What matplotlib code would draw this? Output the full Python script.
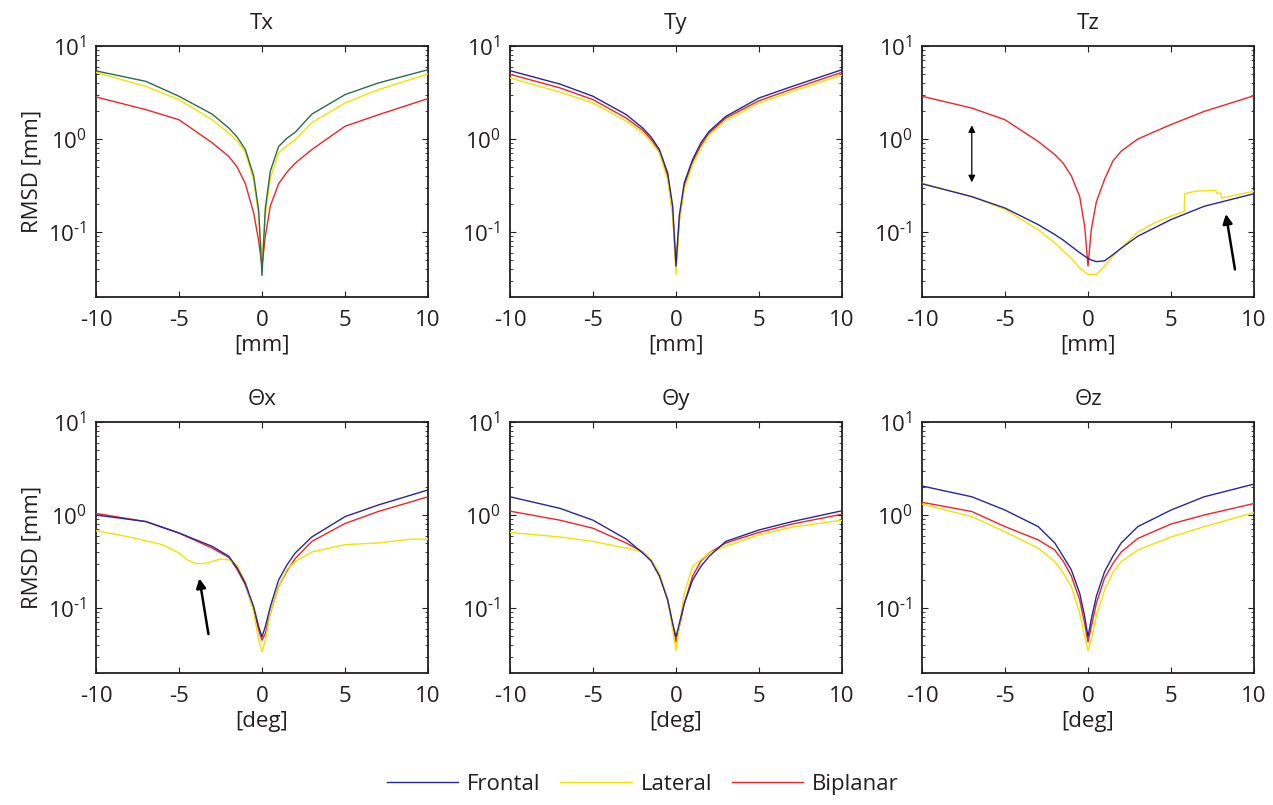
import matplotlib
matplotlib.use('Agg')
from matplotlib import pyplot as plt
from matplotlib.ticker import LogLocator, NullFormatter

plt.rcParams['font.family'] = ['Open Sans', 'DejaVu Sans']
plt.rcParams['mathtext.fontset'] = 'custom'
plt.rcParams['mathtext.rm'] = 'Open Sans'
plt.rcParams['axes.unicode_minus'] = False

# common x grid (mm or deg)
x = [-10, -7, -5, -3, -2, -1.5, -1, -0.5, -0.2, 0, 0.2, 0.5, 1, 1.5, 2, 3, 5, 7, 10]

# Tx
tx_frontal = [5.4, 4.17, 2.88, 1.85, 1.31, 1.05, 0.77, 0.40, 0.17, 0.034, 0.18, 0.45, 0.83, 1.02, 1.18, 1.85, 3.0, 4.0, 5.56]
tx_lateral = [5.2, 3.68, 2.65, 1.61, 1.16, 0.95, 0.72, 0.36, 0.15, 0.05, 0.15, 0.38, 0.71, 0.85, 0.98, 1.5, 2.44, 3.39, 5.0]
tx_biplanar = [2.83, 2.07, 1.61, 0.91, 0.65, 0.50, 0.33, 0.16, 0.08, 0.043, 0.09, 0.19, 0.33, 0.44, 0.55, 0.77, 1.37, 1.82, 2.72]

# Ty
ty_frontal = [5.43, 3.9, 2.88, 1.83, 1.31, 1.05, 0.77, 0.43, 0.19, 0.043, 0.15, 0.34, 0.60, 0.91, 1.21, 1.75, 2.76, 3.68, 5.56]
ty_lateral = [4.53, 3.2, 2.44, 1.55, 1.16, 0.93, 0.71, 0.36, 0.15, 0.035, 0.13, 0.29, 0.53, 0.80, 1.11, 1.59, 2.44, 3.25, 4.88]
ty_biplanar = [4.96, 3.55, 2.65, 1.68, 1.24, 0.99, 0.74, 0.40, 0.16, 0.043, 0.135, 0.31, 0.57, 0.85, 1.16, 1.68, 2.58, 3.45, 5.21]

# Tz
tz_frontal = [0.33, 0.24, 0.181, 0.12, 0.094, 0.082, 0.070, 0.06, 0.055, 0.052, 0.05, 0.048, 0.049, 0.057, 0.067, 0.090, 0.136, 0.189, 0.258]
tz_lat_x = [-10, -7, -5, -3, -2, -1, -0.5, 0, 0.5, 1, 1.5, 2, 3, 4, 5, 5.8, 5.82, 6.5, 7.7, 7.75, 8.0, 8.05, 10]
tz_lateral = [0.335, 0.24, 0.175, 0.106, 0.076, 0.052, 0.041, 0.035, 0.035, 0.043, 0.055, 0.067, 0.100, 0.125, 0.148, 0.167, 0.258, 0.275, 0.28, 0.262, 0.26, 0.232, 0.274]
tz_biplanar = [2.88, 2.15, 1.61, 0.94, 0.68, 0.55, 0.40, 0.24, 0.115, 0.043, 0.107, 0.21, 0.37, 0.58, 0.74, 1.0, 1.43, 1.98, 2.92]

# Theta x
rx_frontal = [1.0, 0.85, 0.64, 0.46, 0.36, 0.27, 0.184, 0.103, 0.063, 0.049, 0.063, 0.103, 0.20, 0.29, 0.39, 0.58, 0.96, 1.28, 1.86]
rx_lat_x = [-10, -8, -6, -5, -4.5, -4, -3.5, -3, -2.5, -2, -1.5, -1, -0.5, -0.2, 0, 0.2, 0.5, 1, 1.5, 2, 3, 5, 7, 9, 10]
rx_lateral = [0.68, 0.58, 0.48, 0.39, 0.33, 0.30, 0.30, 0.316, 0.336, 0.33, 0.29, 0.19, 0.09, 0.045, 0.034, 0.045, 0.088, 0.17, 0.26, 0.316, 0.40, 0.48, 0.50, 0.55, 0.55]
rx_biplanar = [1.04, 0.85, 0.64, 0.44, 0.35, 0.26, 0.177, 0.095, 0.058, 0.045, 0.053, 0.088, 0.17, 0.25, 0.34, 0.52, 0.81, 1.09, 1.57]

# Theta y
ry_frontal = [1.57, 1.18, 0.88, 0.55, 0.39, 0.32, 0.22, 0.122, 0.068, 0.049, 0.068, 0.112, 0.20, 0.28, 0.36, 0.52, 0.69, 0.85, 1.11]
ry_lateral = [0.65, 0.58, 0.52, 0.44, 0.40, 0.33, 0.236, 0.122, 0.058, 0.035, 0.063, 0.144, 0.28, 0.33, 0.39, 0.46, 0.61, 0.74, 0.88]
ry_biplanar = [1.10, 0.88, 0.72, 0.50, 0.40, 0.33, 0.23, 0.122, 0.066, 0.043, 0.063, 0.112, 0.22, 0.32, 0.39, 0.50, 0.65, 0.80, 1.02]

# Theta z
rz_frontal = [2.05, 1.57, 1.13, 0.75, 0.50, 0.36, 0.256, 0.144, 0.081, 0.049, 0.076, 0.133, 0.246, 0.36, 0.50, 0.75, 1.13, 1.57, 2.15]
rz_lateral = [1.31, 0.96, 0.66, 0.44, 0.315, 0.24, 0.17, 0.088, 0.049, 0.035, 0.045, 0.081, 0.156, 0.24, 0.315, 0.42, 0.58, 0.75, 1.06]
rz_biplanar = [1.37, 1.09, 0.75, 0.54, 0.42, 0.32, 0.22, 0.122, 0.068, 0.043, 0.063, 0.112, 0.21, 0.30, 0.40, 0.56, 0.80, 1.0, 1.33]

titles = ['Tx', 'Ty', 'Tz', 'Θx', 'Θy', 'Θz']
xlabels = ['[mm]', '[mm]', '[mm]', '[deg]', '[deg]', '[deg]']
ytick_labels = [r'$10^{\text{-}1}$', r'$10^{0}$', r'$10^{1}$']
panels = [
    ((x, tx_frontal), (x, tx_lateral), (x, tx_biplanar)),
    ((x, ty_frontal), (x, ty_lateral), (x, ty_biplanar)),
    ((x, tz_frontal), (tz_lat_x, tz_lateral), (x, tz_biplanar)),
    ((x, rx_frontal), (rx_lat_x, rx_lateral), (x, rx_biplanar)),
    ((x, ry_frontal), (x, ry_lateral), (x, ry_biplanar)),
    ((x, rz_frontal), (x, rz_lateral), (x, rz_biplanar)),
]
names = ['Frontal', 'Lateral', 'Biplanar']
colors = ['#272795', '#f2e200', '#e8262b']
ink = '#231f20'
fs = 16

fig = plt.figure(figsize=(12.73, 8.05), dpi=100)
lefts = [96 / 1273, 510 / 1273, 922 / 1273]
bottoms = [1 - 297 / 805, 1 - 673 / 805]
w, h = 332 / 1273, 251 / 805

axes = []
for i in range(6):
    ax = fig.add_axes([lefts[i % 3], bottoms[i // 3], w, h])
    axes.append(ax)
    for k in [2, 1, 0]:  # biplanar first, frontal on top
        xs, ys = panels[i][k]
        c = colors[k]
        if i == 0 and k == 0:
            c = '#2d6a4f'
        ax.plot(xs, ys, color=c, lw=1.0, label=names[k], zorder=3)
    ax.set_yscale('log')
    ax.set_xlim(-10, 10)
    ax.set_ylim(0.02, 10)
    ax.set_xticks([-10, -5, 0, 5, 10], ['-10', '-5', '0', '5', '10'])
    ax.set_yticks([0.1, 1, 10], ytick_labels)
    ax.yaxis.set_minor_locator(LogLocator(base=10, subs=range(2, 10)))
    ax.yaxis.set_minor_formatter(NullFormatter())
    ax.tick_params(which='both', direction='in', top=True, right=True, labelsize=fs, colors=ink)
    ax.tick_params(which='major', length=4, width=0.8)
    ax.tick_params(which='minor', length=2.2, width=0.6)
    ax.tick_params(axis='x', which='major', pad=9)
    ax.tick_params(axis='y', which='major', pad=7)
    for s in ax.spines.values():
        s.set_linewidth(1.3)
        s.set_color(ink)
    ax.set_title(titles[i], fontsize=fs, pad=12, color=ink)
    ax.set_xlabel(xlabels[i], fontsize=fs, labelpad=3, color=ink)
    if i % 3 == 0:
        ax.set_ylabel('RMSD [mm]', fontsize=fs, labelpad=4, color=ink)

# arrows (Tz and Theta x)
axes[2].annotate('', xy=(-7, 1.5), xytext=(-7, 0.32),
                 arrowprops=dict(arrowstyle='<|-|>', color='black', lw=0.9, mutation_scale=10))
axes[2].annotate('', xy=(8.28, 0.167), xytext=(8.88, 0.037),
                 arrowprops=dict(arrowstyle='-|>', color='black', lw=1.8, mutation_scale=14))
axes[3].annotate('', xy=(-3.8, 0.223), xytext=(-3.2, 0.049),
                 arrowprops=dict(arrowstyle='-|>', color='black', lw=1.8, mutation_scale=14))

handles, labels = axes[1].get_legend_handles_labels()
hl = dict(zip(labels, handles))
fig.legend([hl[n] for n in names], names, loc='lower center', bbox_to_anchor=(0.505, -0.012),
           ncol=3, frameon=False, fontsize=fs, handlelength=3.2, handletextpad=0.4,
           columnspacing=0.9, labelcolor=ink)

plt.savefig('out.png', dpi=100)
